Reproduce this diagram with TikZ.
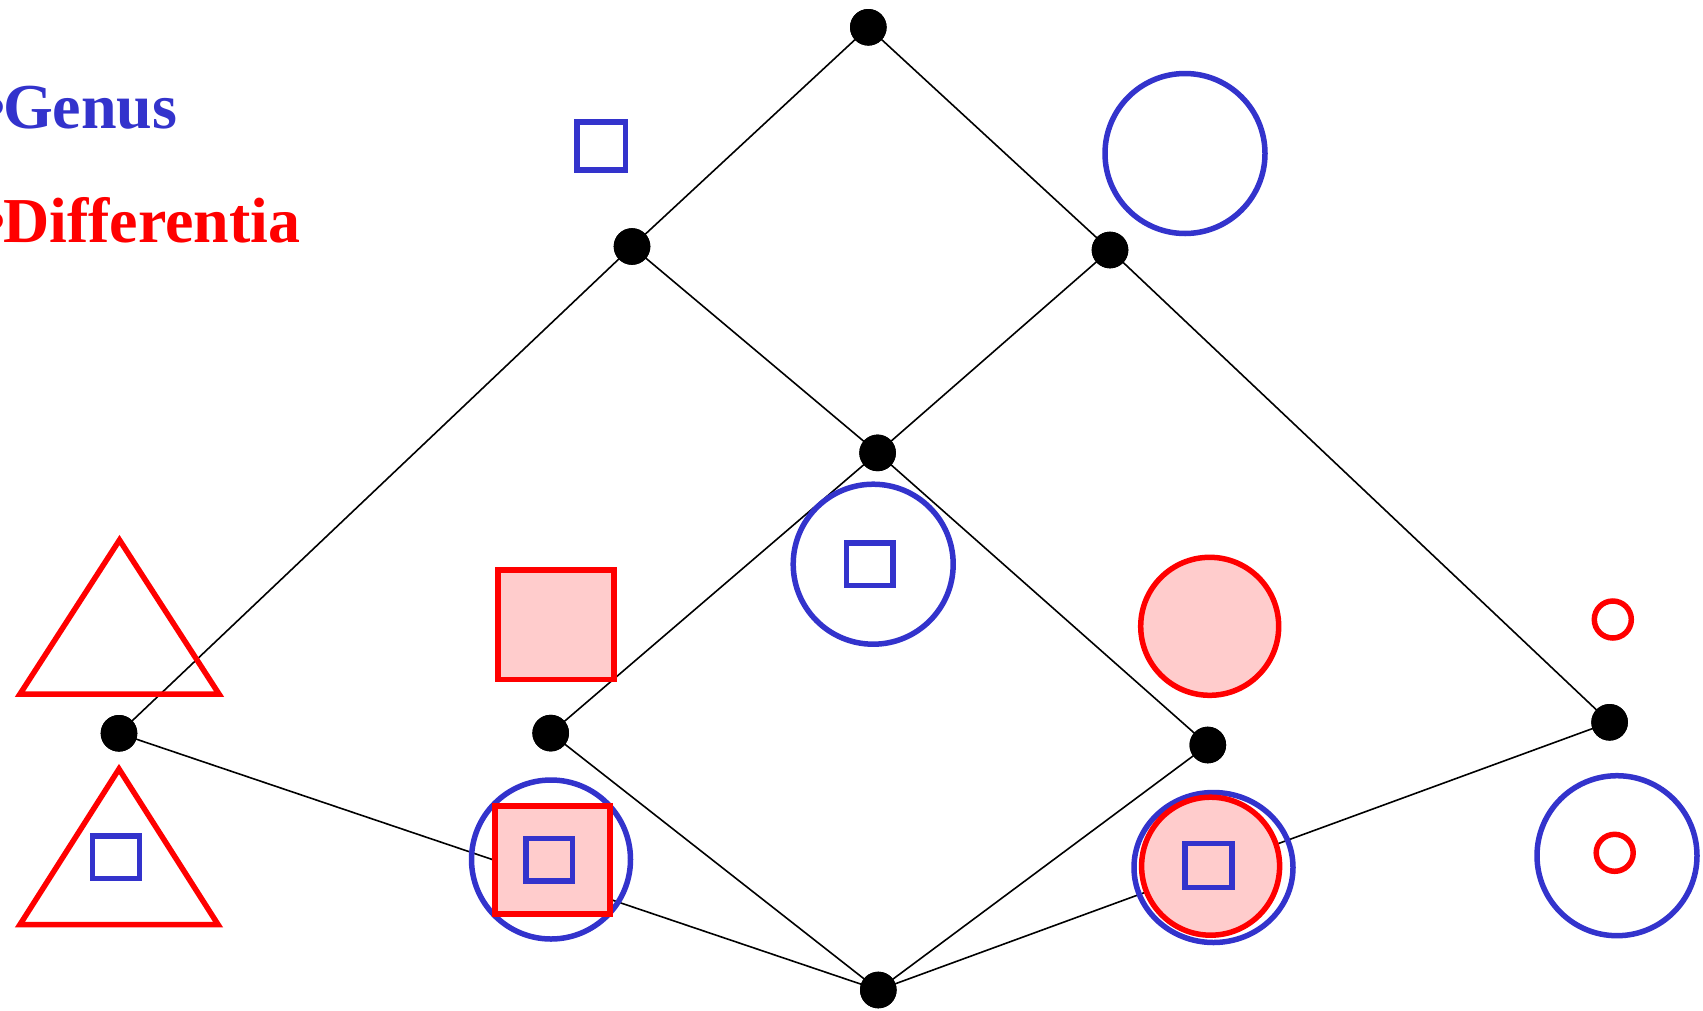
\documentclass[tikz,border=0pt]{standalone}
\usepackage{fontspec}
\setmainfont{Liberation Serif}
\definecolor{gblue}{RGB}{51,51,204}
\definecolor{dred}{RGB}{255,0,0}
\definecolor{pinkfill}{RGB}{255,204,204}
\tikzset{
  dot/.style={circle,fill=black,inner sep=0pt,minimum size=36.6pt},
  edge/.style={draw=black,line width=1.6pt},
  genus/.style={draw=gblue,line width=5.5pt},
  diff/.style={draw=dred,line width=5.5pt,line join=miter},
  difffill/.style={draw=dred,fill=pinkfill,line width=5.5pt},
  label/.style={inner sep=0pt,anchor=base west,font=\bfseries\fontsize{64}{64}\selectfont}
}
\begin{document}
\begin{tikzpicture}[x=1pt,y=-1pt]
\useasboundingbox (0,0) rectangle (1703,1010);
% lattice nodes
\node[dot] (top) at (868.3,27.3) {};
\node[dot] (left2) at (632,246.5) {};
\node[dot] (right2) at (1110,250) {};
\node[dot] (mid) at (877.6,452.9) {};
\node[dot] (L) at (119,733.3) {};
\node[dot] (ML) at (550.7,733.1) {};
\node[dot] (MR) at (1207.8,745) {};
\node[dot] (R) at (1609.6,722.3) {};
\node[dot] (bot) at (878.3,990) {};
% connectors
\foreach \a/\b in {top/left2,top/right2,left2/L,left2/mid,right2/mid,right2/R,mid/ML,mid/MR,L/bot,ML/bot,MR/bot,R/bot}
  \draw[edge] (\a.center) -- (\b.center);
% labels
\node[label,text=gblue] (lgenus) at (-17,128.3) {•\kern-2.5pt Genus};
\node[label,text=dred] (ldiff) at (-17,242.7) {•\kern-2.5pt Differentia};
% top shapes
\draw[genus] (577,122) rectangle (625.5,170);
\draw[genus] (1185,153.5) circle (80);
% upper row shapes
\draw[diff] (119.5,540) -- (219,694) -- (20,694) -- cycle;
\draw[difffill] (498,570) rectangle (614,679.5);
\draw[genus] (873.2,564.2) circle (80);
\draw[genus] (846.5,543) rectangle (893,585.5);
\draw[difffill] (1209.7,626.3) circle (69);
\draw[diff] (1612.8,619.5) circle (18.5);
% lower row shapes
\draw[diff] (119,769) -- (218,924.5) -- (20,924.5) -- cycle;
\draw[genus] (92.5,836) rectangle (139.5,878.5);
\draw[genus] (551,859.5) circle (79.5);
\draw[difffill] (495,806) rectangle (610,914);
\draw[genus] (526,838.5) rectangle (572.5,881);
\draw[genus] (1213.5,867.5) ellipse [x radius=79.5,y radius=75];
\draw[difffill] (1210.6,866.2) circle (69);
\draw[genus] (1185,843.5) rectangle (1232,887.5);
\draw[genus] (1617,855.7) circle (80);
\draw[diff] (1614.7,852.8) circle (18.5);
% redraw dots on top
\foreach \n in {top,left2,right2,mid,L,ML,MR,R,bot}
  \fill (\n) circle (18.3);
\end{tikzpicture}
\end{document}
